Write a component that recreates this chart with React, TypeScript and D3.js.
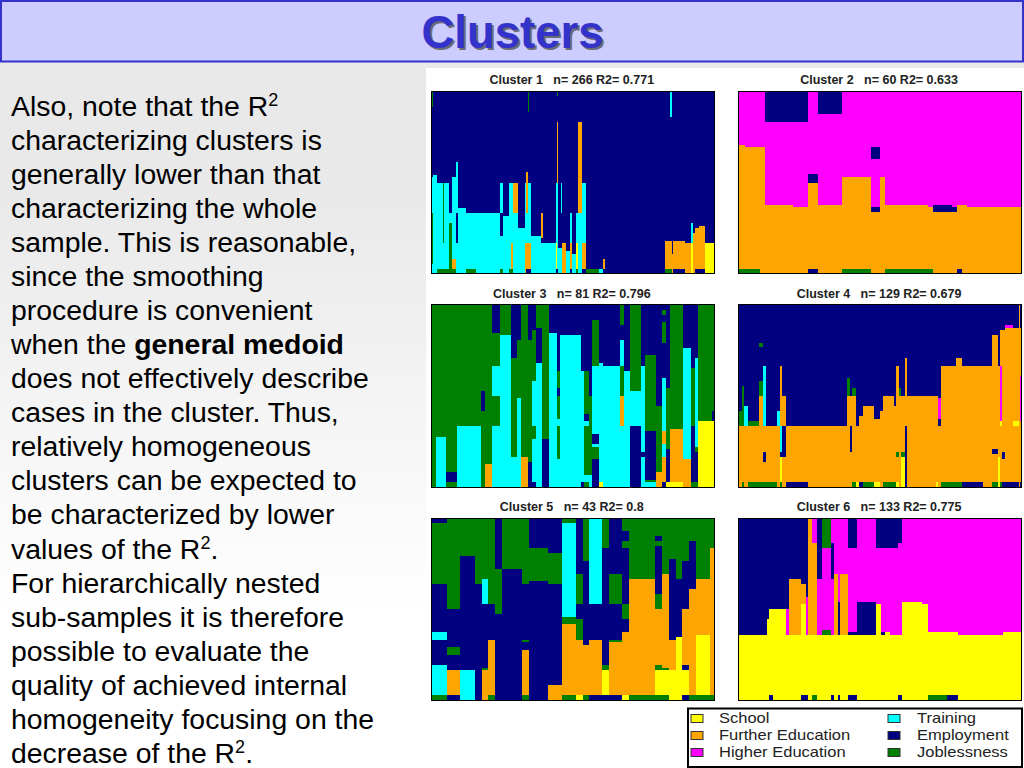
import * as d3 from 'd3';

// states, bottom-up time runs per block of cases: [last case, "state+end month ..."]
const stateKeys = ['S', 'F', 'H', 'T', 'E', 'J'];
const stateColors = ['#ffff00', '#ffa500', '#ff00ff', '#00ffff', '#000080', '#008000'];
const months = 36;

type Col = [number, string];

const cluster1: Col[] = [
  [2, 'T2 J12 T19 E33 J36'], [6, 'T19.5 E36'], [11, 'J1 T18 E36'], [12, 'J1 T6 J18 E36'], [17, 'J1 T18 E36'],
  [20, 'J10 T12 E36'], [23, 'J1 F3 T19 E36'], [25, 'T6 E12 T22 E36'], [33, 'T13 E36'], [42, 'J1 T12 E36'],
  [64.4, 'T12 E36'], [65, 'T12 E34 J36'], [68, 'J1 T7.5 E12 T18 E36'], [73, 'T11.5 E36'], [73.6, 'J1 T18 E33 J36'], [75, 'J1 T18 E36'], [77, 'J1 F6 T18 E36'],
  [82, 'T12 F18 E36'], [88, 'T9 E36'], [89, 'F6 T18 E36'], [91, 'E1 F6 T12 F20 E36'], [91.7, 'E1 F6 T18 E32 J36'], [94, 'E1 F6 T18 E36'],
  [103, 'T7.5 E36'], [105, 'T6 E7 F12 E36'], [117, 'T6 E36'], [118, 'E1 S6 T18 E36'], [119, 'E1 T18 F30 E35 J36'], [120, 'T5 E36'],
  [122, 'T5 E36'], [123, 'T5 E12 T18 E36'], [127, 'F6 E36'], [130, 'T4.5 E36'], [132, 'E1 F6 T12 E36'],
  [136, 'T4 E36'], [138, 'J1 S6 T12 E36'], [142, 'T12 F30 E36'], [145, 'E1 F6 T18 E36'], [158, 'J1 E36'],
  [161, 'T1 E36'], [163, 'E1 F3 E36'], [220, 'E36'], [224, 'J1 F6.5 E36'], [226, 'J1 F6.5 E31 T36'],
  [227, 'F4 E7 E36'], [238, 'E1 F6.5 E36'], [244, 'F6 E36'], [246, 'S6 T10 E36'], [248, 'F8 E36'],
  [251, 'E1 F9 E36'], [257, 'E1 F9.5 E36'], [266, 'S6 E36'],
];

const cluster2: Col[] = [
  [1.5, 'J1 F25.5 H36'], [4.6, 'J1 F25 H36'], [5.6, 'F25 H36'], [11.6, 'F13.6 H30 E36'], [14.7, 'F13.2 H30 E36'],
  [16.8, 'E1 F18 E19.7 H36'], [21.9, 'F13.6 H31.5 E36'], [28, 'J1 F19 H36'], [30, 'F12.2 E13.2 H22.7 E25 H36'],
  [31, 'F19 H36'], [40.2, 'J1 F13.6 H36'], [41.2, 'J1 F13.2 H36'], [45.2, 'F12.2 E13.6 H36'], [46.2, 'F12.2 E13.2 H36'],
  [47.3, 'E1 F13.6 H36'], [48.3, 'F13.6 H36'], [60, 'F13.2 H36'],
];

const cluster3: Col[] = [
  [1.4, 'J36'], [4.3, 'T10 J36'], [7.4, 'J1 E3 J36'], [14.3, 'T12 J36'], [15.5, 'J15 E19 J36'],
  [17.4, 'F4.5 J36'], [19.7, 'T12 J18 T24 J30.5 E36'], [22.8, 'T30 J36'], [24.6, 'T6 J25.5 E36'], [25.7, 'T17.5 J29 E36'],
  [27.6, 'F6 J36'], [28.9, 'E5 J29 E36'], [30, 'E1 T9.5 J12 T21 J31 E36'], [31.7, 'T24.5 E31.5 J36'], [33.7, 'E9.5 J36'],
  [36, 'T30.5 E36'], [36.8, 'T5.5 J12 T13.5 J18 E19.5 J23 E36'], [42.9, 'T30 E36'], [43.8, 'E1 T23 E36'],
  [45, 'J1 T2.5 J12 T13 E14.5 J23 E36'], [46, 'T2.5 J18 E36'], [48, 'E5.5 J8 T8.5 E10.5 T24 J33 E36'], [49, 'S1 T24.5 E36'],
  [54, 'T24 E36'], [55.2, 'T12 F18 J24 T29 E32 J36'], [56.9, 'T23 E36'], [59.9, 'E12 T19 J36'], [61.1, 'T6 E7 T24 E36'],
  [64.3, 'T1 J1.5 E11 J26 E36'], [66, 'F3 J16 E36'], [67.1, 'E1 F6 T8.5 F11 T21.5 E28.5 J32.5 E34 J35 E36'],
  [68.3, 'S1 E7.5 J19.5 E36'], [71.9, 'S1 F11.5 J36'], [74.3, 'F5.5 T27.5 E36'], [75.5, 'J1 E12 J23.5 E36'],
  [76.3, 'J1 E7 J8 T25.5 E36'], [80.3, 'S13 J36'], [81, 'S13 E15 J36'],
];

const cluster4: Col[] = [
  [1.5, 'F12 J15 E36'], [2.6, 'J1 F12 J20 E36'], [4.6, 'F12 T16 E36'], [9.4, 'J1 F12 J13 E36'],
  [11.4, 'J1 F18 J21 E27.6 J28.5 E36'], [12.6, 'J1 F5 E7 F12 T24 E36'], [17.8, 'J1 F12 E36'], [19, 'F12 T15 E36'],
  [19.7, 'J1 S6 E7 T12 F24 E36'], [21.7, 'F6 E12 F18 E36'], [31.7, 'E1 F12 E36'], [49.3, 'F12 E36'], [50.8, 'F18 J21.5 E36'],
  [51.7, 'F7 E12 F18 E36'], [53.5, 'J1 F18 J19.5 E36'], [55, 'S1 F12 E36'], [56.6, 'E1 F14 E36'], [61.9, 'J1 F16 E36'],
  [64.5, 'S1 F13.5 E36'], [65.9, 'F15 E36'], [71, 'J1 F18 E36'], [71.8, 'J1 F16 E36'], [72.9, 'S1 F6 J7 F24 E36'],
  [74, 'F18 J19.5 E36'], [75.8, 'S6 J7 F18 E36'], [76.9, 'E12 F25.5 E36'], [90, 'F18 E36'], [91, 'S1 F18 E36'],
  [92.1, 'F12 E13.5 H17.5 E36'], [99, 'J1 F24 E36'], [102, 'J1 F25.5 E36'], [111.2, 'E1 F24 E36'], [115.3, 'F24 E36'],
  [118.3, 'J1 F6.5 E7.5 F30 E36'], [119, 'S6 F24 E36'], [120.2, 'J1 F12 S13 H24 F31 E36'], [121.4, 'E1 F5.5 E7 F31 E36'],
  [125.2, 'E1 F31.5 H32 E36'], [127.5, 'E1 F12 S13 F31.5 E36'], [128.2, 'F36'], [129, 'E1 F13 H22 F31.5 E36'],
];

const cluster5: Col[] = [
  [2.4, 'J1 T7 E12 T13.5 E23 J35 E36'], [4.4, 'E1 F6 E9 J10.5 E18 J36'], [6.6, 'T6 E28.5 J36'], [7.7, 'E23 J36'],
  [8.7, 'F6 J6.5 E19 T24 J36'], [9.7, 'J1 F12 E19 J36'], [10.8, 'E17 J26 E36'], [13.8, 'E26 J36'],
  [14.8, 'J1 F10 E11.5 J12 E23 J36'], [17.8, 'E23.5 J30 E36'], [19.8, 'F3 E23 J29 E36'], [22, 'J1 F15 J16.5 T35 J36'],
  [23, 'S1 F12 J16 E19 J25 E36'], [24, 'J1 F11 E27.5 J36'], [26, 'E1 F12 E19 T36'], [27, 'E1 S6 J7 E30 J36'],
  [29, 'E1 F11.5 J12 E19 J25 E36'], [30, 'S1 F13.5 E16 J19 E30 J31.5 E33.5 J36'], [34, 'J1 F24 J36'],
  [35, 'J1 S6 J7 F18 J21 E30.5 J31.5 E32.5 J36'], [36.1, 'J1 S6 J6.5 F25 J36'], [37.1, 'S6 F12 E28 J36'],
  [38.1, 'S12.5 E24 J36'], [39.2, 'E1 S6 E7 F18 E27.5 J36'], [40.2, 'J1 F22 E31.5 J36'], [42.3, 'J1 S13 F24 J36'], [43, 'J1 F30 J36'],
];

const cluster6: Col[] = [
  [13.3, 'S13 E36'], [14.6, 'S16 E36'], [16.4, 'E1 S18 E36'], [22.3, 'S18 E36'], [23.7, 'S13 H18 E36'], [29.6, 'S13 F24 E36'],
  [31.8, 'E1 S19 F23 E36'], [32.7, 'E1 S13 H20.5 E36'], [34.6, 'S13 F36'], [36.8, 'J1 S13 F31 H36'], [39.4, 'S13 H24 E36'],
  [43.5, 'S13 J14 H30 J36'], [44.8, 'E1 S13 H24 E31 H36'], [46.6, 'S13 F25 H36'], [47.7, 'E1 S13 E19.5 H36'], [51.6, 'S13 F25 H36'],
  [55.6, 'E1 S13 E13.5 H30 E36'], [64.7, 'S13 E19.5 H36'], [66.8, 'S19 H30 E36'], [68.8, 'S13 E13.5 H30 E36'], [71.2, 'S13.5 H30 E36'],
  [75.1, 'S13 H30 E36'], [76.8, 'E1 S13 H31 E36'], [86, 'S19.5 H36'], [89.2, 'S19 H36'], [97.8, 'J1 S13.5 H36'],
  [103, 'E1 S13.5 H36'], [124.4, 'S13 H36'], [133, 'S13.5 H36'],
];

const clusterCols = [cluster1, cluster2, cluster3, cluster4, cluster5, cluster6];
const clusterN = [266, 60, 81, 129, 43, 133];
const clusterR2 = ['0.771', '0.633', '0.796', '0.679', '0.8', '0.775'];

const legendNames = ['School', 'Further Education', 'Higher Education', 'Training', 'Employment', 'Joblessness'];

// text of the slide, one entry per line; ^ marks a superscript, * bold
const bodyLines = [
  'Also, note that the R^2', 'characterizing clusters is', 'generally lower than that', 'characterizing the whole',
  'sample. This is reasonable,', 'since the smoothing', 'procedure is convenient', 'when the *general medoid',
  'does not effectively describe', 'cases in the cluster. Thus,', 'relatively homogeneous', 'clusters can be expected to',
  'be characterized by lower', 'values of the R^2^.', 'For hierarchically nested', 'sub-samples it is therefore',
  'possible to evaluate the', 'quality of achieved internal', 'homogeneity focusing on the', 'decrease of the R^2^.',
];

const color = d3.scaleOrdinal<string, string>().domain(stateKeys).range(stateColors);
const sans = '"Liberation Sans", Arial, sans-serif';

function Panel({ index, x0, y0 }: { index: number; x0: number; y0: number }) {
  const w = 283.5;
  const h = 182.5;
  const x = d3.scaleLinear().domain([0, clusterN[index]]).range([x0, x0 + w]);
  const y = d3.scaleLinear().domain([0, months]).range([y0 + h, y0]);
  let prev = 0;
  const rects = clusterCols[index].flatMap(([end, runs]) => {
    const start = prev;
    prev = end;
    let t = 0;
    return runs.split(' ').map((run) => {
      const state = run[0];
      const from = t;
      t = +run.slice(1);
      return { start, end, from, to: t, state };
    });
  });
  return (
    <g>
      <text x={x0 + w / 2 - 1} y={y0 - 7} textAnchor="middle" fontFamily={sans} fontSize={12.5} fontWeight="bold" fill="#222" xmlSpace="preserve">
        {`Cluster ${index + 1}   n= ${clusterN[index]} R2= ${clusterR2[index]}`}
      </text>
      <g shapeRendering="crispEdges">
        {rects.map((r, i) => (
          <rect key={i} x={x(r.start)} width={x(r.end) - x(r.start)} y={y(r.to)} height={y(r.from) - y(r.to)} fill={color(r.state)} />
        ))}
        <rect x={x0} y={y0} width={w} height={h} fill="none" stroke="#000" strokeWidth={1} />
      </g>
    </g>
  );
}

function BodyLine({ line, i }: { line: string; i: number }) {
  const parts = line.split(/(\^2\^?|\*.*$)/).filter(Boolean);
  return (
    <text x={11} y={115.5 + i * 34.08} fontFamily={sans} fontSize={28.4} fill="#000">
      {parts.map((p, k) => {
        if (p.startsWith('^')) return <tspan key={k} fontSize={18} dy={-10}>2</tspan>;
        if (p.startsWith('*')) return <tspan key={k} fontWeight="bold">{p.slice(1)}</tspan>;
        return <tspan key={k} dy={k > 0 ? 10 : 0}>{p}</tspan>;
      })}
    </text>
  );
}

export default function App() {
  return (
    <svg width={1024} height={768} style={{ position: 'fixed', left: 0, top: 0 }}>
      <defs>
        <linearGradient id="bg" x1="0" y1="0" x2="0" y2="1">
          <stop offset="0" stopColor="#e8e8e8" />
          <stop offset="0.25" stopColor="#e9e9e9" />
          <stop offset="0.8" stopColor="#ffffff" />
        </linearGradient>
      </defs>
      <rect x={0} y={0} width={1024} height={768} fill="url(#bg)" />
      <rect x={426} y={68} width={598} height={640} fill="#ffffff" />
      <rect x={1} y={1} width={1022} height={60.5} fill="#ccccff" stroke="#3333cc" strokeWidth={2} />
      <text x={514.5} y={49.5} textAnchor="middle" fontFamily={sans} fontSize={45.5} fontWeight="bold" fill="#555" opacity={0.8}>Clusters</text>
      <text x={512.5} y={47.5} textAnchor="middle" fontFamily={sans} fontSize={45.5} fontWeight="bold" fill="#3333cc">Clusters</text>

      {bodyLines.map((line, i) => <BodyLine key={i} line={line} i={i} />)}

      <Panel index={0} x0={431} y0={91.3} />
      <Panel index={1} x0={738.3} y0={91.3} />
      <Panel index={2} x0={431} y0={304.7} />
      <Panel index={3} x0={738.3} y0={304.7} />
      <Panel index={4} x0={431} y0={518} />
      <Panel index={5} x0={738.3} y0={518} />

      <rect x={688} y={708.5} width={334} height={58.5} fill="#ffffff" stroke="#000" strokeWidth={2} />
      {legendNames.map((name, i) => {
        const col = i < 3 ? 0 : 1;
        const row = i % 3;
        const lx = col === 0 ? 691 : 888;
        const tx = col === 0 ? 719 : 917;
        return (
          <g key={name}>
            <rect x={lx} y={714.5 + row * 17} width={12} height={8} fill={color(stateKeys[i])} stroke="#333" strokeWidth={1} />
            <text transform={`translate(${tx},${723 + row * 17}) scale(1.18,1)`} fontFamily={sans} fontSize={14} fill="#222">{name}</text>
          </g>
        );
      })}
    </svg>
  );
}
